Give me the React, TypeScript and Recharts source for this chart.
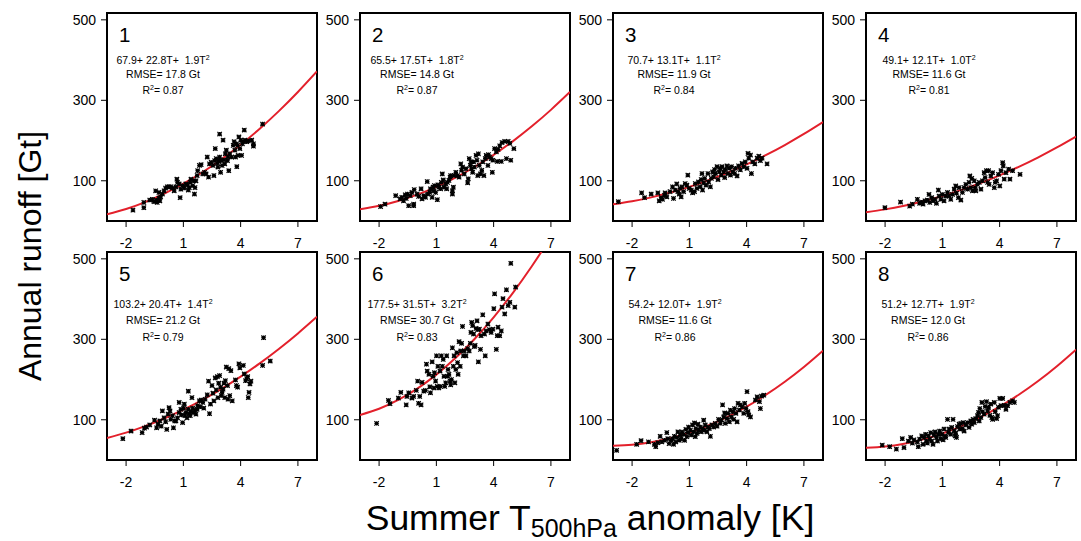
import { ComposedChart, Scatter, Line, XAxis, YAxis, ReferenceArea } from "recharts";

// fitted curves, read at whole degrees T = -3 .. 8
const curveT = [-3, -2, -1, 0, 1, 2, 3, 4, 5, 6, 7, 8];
const curve1 = [16.6, 29.9, 47.0, 67.9, 92.6, 121.1, 153.4, 189.5, 229.4, 273.1, 320.6, 371.9];
const curve2 = [29.2, 37.7, 49.8, 65.5, 84.8, 107.7, 134.2, 164.3, 198.0, 235.3, 276.2, 320.7];
const curve3 = [41.3, 48.9, 58.7, 70.7, 84.9, 101.3, 119.9, 140.7, 163.7, 188.9, 216.3, 245.9];
const curve4 = [21.8, 28.9, 38.0, 49.1, 62.2, 77.3, 94.4, 113.5, 134.6, 157.7, 182.8, 209.9];
const curve5 = [54.6, 68.0, 84.2, 103.2, 125.0, 149.6, 177.0, 207.2, 240.2, 276.0, 314.6, 356.0];
const curve6 = [111.8, 127.3, 149.2, 177.5, 212.2, 253.3, 300.8, 354.7, 415.0, 481.7, 554.8, 634.3];
const curve7 = [35.3, 37.8, 44.1, 54.2, 68.1, 85.8, 107.3, 132.6, 161.7, 194.6, 231.3, 271.8];
const curve8 = [30.2, 33.4, 40.4, 51.2, 65.8, 84.2, 106.4, 132.4, 162.2, 195.8, 233.2, 274.4];

// yearly points [T anomaly, runoff]
const scatter1 = [[-1.64,27],[-1.07,33],[-1.07,46],[-0.76,52],[-0.63,54],[-0.54,48],[-0.42,52],[-0.37,46],[-0.28,57],[-0.23,50],[-0.19,60],[-0.45,75],[-0.28,71],[-0.10,67],[-0.01,75],[0.07,82],[0.16,85],[0.25,85],[0.34,85],[0.43,82],[0.52,75],[0.61,85],[0.66,104],[0.69,96],[0.78,92],[0.83,58],[0.87,79],[0.96,88],[1.05,82],[1.13,92],[1.22,90],[1.26,77],[1.31,83],[1.36,96],[1.40,104],[1.49,88],[1.54,100],[1.58,67],[1.61,83],[1.66,100],[1.72,113],[1.75,125],[1.84,138],[1.93,140],[2.02,117],[2.11,121],[2.19,117],[2.25,159],[2.32,109],[2.37,142],[2.46,146],[2.55,138],[2.60,113],[2.64,150],[2.67,180],[2.72,155],[2.78,144],[2.81,134],[2.85,150],[2.90,216],[2.90,159],[2.95,121],[2.99,150],[3.03,138],[3.08,201],[3.13,152],[3.17,142],[3.20,167],[3.25,176],[3.31,150],[3.34,159],[3.38,125],[3.43,167],[3.52,159],[3.61,188],[3.66,197],[3.70,176],[3.73,159],[3.78,192],[3.80,135],[3.84,188],[3.87,163],[3.91,209],[3.96,180],[4.01,201],[4.05,163],[4.09,192],[4.14,197],[4.19,226],[4.23,201],[4.32,197],[4.40,199],[4.58,201],[4.67,192],[4.67,186],[5.15,241]];
const scatter2 = [[-1.92,36],[-1.69,42],[-1.13,63],[-0.90,55],[-0.81,59],[-0.72,50],[-0.63,65],[-0.58,56],[-0.51,67],[-0.45,38],[-0.37,63],[-0.28,71],[-0.19,42],[-0.19,38],[-0.16,78],[-0.01,67],[0.07,61],[0.20,80],[0.25,55],[0.34,63],[0.43,59],[0.52,98],[0.55,67],[0.66,71],[0.69,80],[0.78,59],[0.83,84],[0.87,75],[0.90,88],[0.96,71],[1.05,53],[1.08,90],[1.13,84],[1.22,80],[1.26,96],[1.31,117],[1.36,102],[1.40,84],[1.49,92],[1.54,80],[1.58,96],[1.66,101],[1.72,109],[1.75,113],[1.84,75],[1.84,67],[1.89,84],[1.93,113],[2.02,121],[2.11,113],[2.19,109],[2.28,142],[2.32,126],[2.37,134],[2.46,117],[2.55,130],[2.64,95],[2.67,105],[2.72,155],[2.78,138],[2.81,147],[2.85,130],[2.90,121],[2.95,147],[2.99,134],[3.08,163],[3.13,151],[3.17,113],[3.20,167],[3.25,138],[3.31,117],[3.38,126],[3.43,147],[3.49,113],[3.56,155],[3.61,163],[3.70,138],[3.73,165],[3.78,159],[3.87,155],[3.93,121],[3.96,151],[4.05,180],[4.14,172],[4.19,148],[4.23,178],[4.32,187],[4.40,148],[4.44,195],[4.58,198],[4.67,155],[4.76,198],[4.85,193],[4.90,151],[5.06,180]];
const scatter3 = [[-2.72,48],[-1.50,70],[-1.35,58],[-1.00,67],[-0.65,70],[-0.58,50],[-0.48,58],[-0.41,54],[-0.30,64],[-0.27,70],[-0.18,60],[-0.01,73],[0.12,85],[0.17,56],[0.26,77],[0.34,92],[0.40,73],[0.47,67],[0.52,81],[0.57,60],[0.61,85],[0.70,73],[0.78,93],[0.87,89],[0.92,114],[0.99,81],[1.10,77],[1.17,70],[1.27,73],[1.31,93],[1.40,81],[1.48,97],[1.57,85],[1.62,103],[1.66,118],[1.69,77],[1.75,95],[1.80,106],[1.87,89],[1.97,118],[2.01,97],[2.10,85],[2.15,106],[2.22,122],[2.27,110],[2.32,128],[2.36,118],[2.45,135],[2.50,103],[2.57,122],[2.62,131],[2.67,114],[2.71,135],[2.80,122],[2.85,108],[2.88,128],[2.97,137],[3.02,118],[3.09,131],[3.15,114],[3.20,135],[3.27,122],[3.37,118],[3.41,131],[3.50,112],[3.58,137],[3.67,127],[3.76,143],[3.85,135],[3.93,147],[4.02,131],[4.07,168],[4.11,156],[4.20,164],[4.25,118],[4.32,147],[4.43,142],[4.55,156],[4.64,161],[4.72,150],[4.81,156],[5.07,142]];
const scatter4 = [[-2.01,33],[-1.19,47],[-0.71,37],[-0.57,42],[-0.31,54],[-0.19,44],[-0.08,47],[-0.01,42],[0.09,50],[0.21,52],[0.30,66],[0.34,46],[0.44,58],[0.51,50],[0.62,54],[0.69,44],[0.79,77],[0.83,62],[0.92,54],[1.00,66],[1.09,50],[1.18,62],[1.27,71],[1.35,62],[1.44,54],[1.53,66],[1.62,79],[1.70,87],[1.74,69],[1.84,58],[1.88,83],[1.97,52],[2.05,71],[2.14,83],[2.23,91],[2.32,79],[2.40,96],[2.44,112],[2.49,83],[2.54,106],[2.58,75],[2.67,100],[2.72,83],[2.75,75],[2.84,91],[2.93,96],[3.02,79],[3.10,100],[3.19,120],[3.24,108],[3.31,125],[3.37,96],[3.42,125],[3.45,91],[3.54,112],[3.63,120],[3.72,83],[3.77,96],[3.84,100],[3.94,116],[4.01,87],[4.07,125],[4.16,145],[4.19,137],[4.24,104],[4.33,120],[4.47,129],[4.54,104],[4.68,125],[5.07,116]];
const scatter5 = [[-2.17,53],[-1.74,72],[-1.16,68],[-1.04,79],[-0.93,82],[-0.76,87],[-0.51,99],[-0.40,80],[-0.33,89],[-0.23,97],[-0.16,84],[-0.10,122],[-0.01,105],[0.07,95],[0.13,76],[0.20,114],[0.25,130],[0.30,122],[0.34,101],[0.43,110],[0.48,80],[0.55,97],[0.61,97],[0.69,105],[0.78,143],[0.78,118],[0.87,126],[0.90,112],[0.96,93],[1.01,129],[1.05,139],[1.08,110],[1.13,118],[1.19,105],[1.26,171],[1.26,126],[1.31,115],[1.36,110],[1.40,120],[1.45,155],[1.49,129],[1.54,118],[1.61,124],[1.66,114],[1.72,126],[1.75,135],[1.84,147],[1.89,132],[1.93,149],[2.02,143],[2.07,129],[2.14,151],[2.25,162],[2.32,196],[2.37,115],[2.42,139],[2.50,185],[2.55,166],[2.60,147],[2.67,204],[2.72,174],[2.78,207],[2.81,155],[2.85,191],[2.90,210],[2.95,181],[2.99,160],[3.03,168],[3.08,176],[3.13,191],[3.17,155],[3.20,197],[3.25,231],[3.31,185],[3.34,151],[3.38,227],[3.43,160],[3.49,222],[3.56,147],[3.73,199],[3.78,185],[3.84,181],[3.91,239],[3.96,229],[4.14,235],[4.19,214],[4.26,197],[4.32,202],[4.37,207],[4.40,155],[4.44,168],[4.49,189],[4.54,196],[5.15,235],[5.20,304],[5.55,246]];
const scatter6 = [[-2.13,91],[-1.51,148],[-1.43,140],[-0.99,154],[-0.86,168],[-0.58,137],[-0.54,158],[-0.45,167],[-0.28,154],[-0.19,158],[-0.05,173],[0.02,196],[0.07,141],[0.13,158],[0.20,137],[0.25,193],[0.34,171],[0.43,173],[0.48,238],[0.52,221],[0.61,213],[0.66,182],[0.69,167],[0.78,244],[0.83,208],[0.87,179],[0.90,217],[0.96,196],[1.01,259],[1.05,183],[1.08,233],[1.13,179],[1.19,221],[1.22,183],[1.26,259],[1.31,233],[1.36,250],[1.40,208],[1.44,183],[1.49,192],[1.54,259],[1.58,208],[1.61,225],[1.66,213],[1.72,196],[1.75,187],[1.79,200],[1.84,279],[1.89,233],[1.93,259],[1.97,192],[2.02,225],[2.07,267],[2.11,242],[2.14,213],[2.19,294],[2.25,233],[2.28,271],[2.32,290],[2.37,332],[2.42,259],[2.46,271],[2.55,259],[2.64,277],[2.72,271],[2.78,290],[2.81,317],[2.85,342],[2.90,334],[2.95,313],[2.99,282],[3.03,285],[3.08,327],[3.13,346],[3.17,324],[3.20,244],[3.25,325],[3.31,275],[3.34,309],[3.43,361],[3.52,313],[3.56,259],[3.61,321],[3.70,338],[3.78,324],[3.87,317],[3.96,325],[4.01,376],[4.05,413],[4.14,275],[4.19,309],[4.23,330],[4.32,309],[4.40,321],[4.44,380],[4.49,401],[4.58,363],[4.67,423],[4.76,384],[4.85,392],[4.90,489],[5.11,380],[5.15,430]];
const scatter7 = [[-2.81,24],[-1.76,39],[-1.53,48],[-1.14,45],[-0.83,39],[-0.76,33],[-0.65,43],[-0.53,59],[-0.44,45],[-0.30,49],[-0.18,68],[-0.13,53],[-0.06,41],[0.05,49],[0.12,53],[0.17,39],[0.22,59],[0.29,45],[0.34,56],[0.40,70],[0.47,49],[0.52,62],[0.57,53],[0.61,70],[0.70,64],[0.75,49],[0.82,76],[0.87,58],[0.92,68],[0.96,82],[1.05,74],[1.10,62],[1.17,87],[1.22,70],[1.27,92],[1.31,58],[1.34,78],[1.40,66],[1.45,89],[1.48,74],[1.57,82],[1.62,70],[1.69,78],[1.75,99],[1.80,74],[1.83,87],[1.92,70],[1.97,82],[2.04,78],[2.10,59],[2.18,87],[2.27,82],[2.36,91],[2.45,84],[2.53,101],[2.62,91],[2.67,99],[2.74,137],[2.80,107],[2.85,117],[2.88,91],[2.97,103],[3.02,116],[3.09,95],[3.15,124],[3.20,107],[3.27,120],[3.32,101],[3.37,128],[3.44,116],[3.50,95],[3.55,141],[3.62,124],[3.67,137],[3.76,132],[3.85,116],[3.90,141],[3.97,128],[4.02,170],[4.07,120],[4.11,112],[4.20,107],[4.46,149],[4.55,157],[4.67,145],[4.72,128],[4.78,159],[4.90,161]];
const scatter8 = [[-2.15,37],[-1.76,33],[-1.41,27],[-1.10,53],[-1.01,31],[-0.78,47],[-0.66,56],[-0.57,42],[-0.49,50],[-0.31,45],[-0.26,33],[-0.19,52],[-0.08,60],[-0.01,39],[0.04,56],[0.13,64],[0.16,47],[0.21,42],[0.27,60],[0.34,52],[0.39,68],[0.44,47],[0.51,39],[0.57,62],[0.62,70],[0.69,56],[0.74,47],[0.79,64],[0.86,72],[0.92,53],[0.97,64],[1.04,50],[1.09,77],[1.14,60],[1.18,56],[1.27,101],[1.32,68],[1.35,77],[1.44,64],[1.49,81],[1.56,101],[1.62,72],[1.67,60],[1.70,67],[1.74,56],[1.79,83],[1.88,89],[1.91,77],[1.97,91],[2.05,78],[2.09,93],[2.14,72],[2.23,87],[2.32,93],[2.40,81],[2.49,97],[2.54,89],[2.61,101],[2.67,93],[2.75,103],[2.84,110],[2.89,118],[2.93,97],[2.96,128],[3.02,106],[3.07,143],[3.10,120],[3.19,114],[3.24,133],[3.31,145],[3.37,122],[3.42,131],[3.49,111],[3.54,139],[3.59,106],[3.63,101],[3.72,143],[3.77,120],[3.84,103],[3.89,110],[3.94,131],[4.01,153],[4.07,135],[4.16,153],[4.24,136],[4.33,126],[4.42,135],[4.54,143],[4.68,147],[4.77,143]];

const panelNames = ["1", "2", "3", "4", "5", "6", "7", "8"];
const intercepts = [67.9, 65.5, 70.7, 49.1, 103.2, 177.5, 54.2, 51.2];
const linearTerms = [22.8, 17.5, 13.1, 12.1, 20.4, 31.5, 12.0, 12.7];
const quadTerms = [1.9, 1.8, 1.1, 1.0, 1.4, 3.2, 1.9, 1.9];
const rmses = [17.8, 14.8, 11.9, 11.6, 21.2, 30.7, 11.6, 12.0];
const r2s = [0.87, 0.87, 0.84, 0.81, 0.79, 0.83, 0.86, 0.86];

const xTicks = [-2, 1, 4, 7];
const yTicks = [100, 300, 500];

const curves = [curve1, curve2, curve3, curve4, curve5, curve6, curve7, curve8];
const scatters = [scatter1, scatter2, scatter3, scatter4, scatter5, scatter6, scatter7, scatter8];

const colLefts = [107, 360, 613, 866];
const rowTops = [13, 252];
const textCenters = [56, 57, 61, 63, 56, 57, 62, 62];
const textBase = [
  [50.5, 65, 81],
  [56, 71.5, 88.5],
];
const FONT = "'Liberation Sans', Arial, Helvetica, sans-serif";

function Star(props: any) {
  const { cx, cy } = props;
  if (cx == null || cy == null) return <g />;
  const r = 2.2;
  const d = `M${cx - r},${cy - r}L${cx + r},${cy + r}M${cx - r},${cy + r}L${cx + r},${cy - r}M${cx},${cy - r}L${cx},${cy + r}M${cx - r},${cy}L${cx + r},${cy}`;
  return <path d={d} stroke="#000" strokeWidth={1.2} fill="none" />;
}

function Panel({ i }: { i: number }) {
  const col = i % 4;
  const row = Math.floor(i / 4);
  const pts = scatters[i].map(([t, v]) => ({ t, v }));
  const fit = curveT.map((t, k) => ({ t, v: curves[i][k] }));
  return (
    <div style={{ position: "absolute", left: colLefts[col] - 60, top: rowTops[row] - 10 }}>
      <ComposedChart width={280} height={260} margin={{ top: 10, right: 10, bottom: 0, left: 0 }}>
        <XAxis
          type="number"
          dataKey="t"
          domain={[-3, 8]}
          ticks={xTicks}
          allowDataOverflow
          height={42}
          axisLine={false}
          tickLine={{ stroke: "#000" }}
          tickSize={6}
          tickMargin={11}
          tick={{ fill: "#000", fontSize: 14 }}
        />
        <YAxis
          type="number"
          dataKey="v"
          domain={[0, 517]}
          ticks={yTicks}
          allowDataOverflow
          width={60}
          axisLine={false}
          tickLine={{ stroke: "#000" }}
          tickSize={6}
          tickMargin={5}
          tick={{ fill: "#000", fontSize: 14 }}
        />
        <Scatter data={pts} dataKey="v" shape={<Star />} isAnimationActive={false} />
        <Line
          data={fit}
          dataKey="v"
          type="natural"
          stroke="#e3202b"
          strokeWidth={2}
          dot={false}
          activeDot={false}
          isAnimationActive={false}
        />
        <ReferenceArea x1={-3} x2={8} y1={0} y2={517} fill="none" stroke="#000" strokeWidth={2} />
      </ComposedChart>
    </div>
  );
}

export default function App() {
  return (
    <div style={{ position: "absolute", left: 0, top: 0, width: 1081, height: 541, background: "#fff", fontFamily: FONT }}>
      {panelNames.map((_, i) => (
        <Panel key={i} i={i} />
      ))}
      <svg width={1081} height={541} style={{ position: "absolute", left: 0, top: 0, pointerEvents: "none" }} fontFamily={FONT}>
        {panelNames.map((name, i) => {
          const col = i % 4;
          const row = Math.floor(i / 4);
          const x0 = colLefts[col];
          const y0 = rowTops[row];
          const cx = x0 + textCenters[i];
          const b = textBase[row];
          return (
            <g key={name} fill="#000">
              <text x={x0 + 12} y={y0 + 28.5} fontSize={20.5}>{name}</text>
              <text x={cx} y={y0 + b[0]} fontSize={10.5} textAnchor="middle" style={{ whiteSpace: "pre" }}>
                {`${intercepts[i].toFixed(1)}+ ${linearTerms[i].toFixed(1)}T+  ${quadTerms[i].toFixed(1)}T`}
                <tspan fontSize={7} dy={-4}>2</tspan>
              </text>
              <text x={cx} y={y0 + b[1]} fontSize={10.5} textAnchor="middle" style={{ whiteSpace: "pre" }}>
                {`RMSE= ${rmses[i].toFixed(1)} Gt`}
              </text>
              <text x={cx} y={y0 + b[2]} fontSize={10.5} textAnchor="middle" style={{ whiteSpace: "pre" }}>
                R<tspan fontSize={7} dy={-4}>2</tspan>
                <tspan dy={4}>{`= ${r2s[i].toFixed(2)}`}</tspan>
              </text>
            </g>
          );
        })}
        <text transform="translate(41,256) rotate(-90)" textAnchor="middle" fontSize={32} fill="#000">
          Annual runoff [Gt]
        </text>
        <text x={590} y={530} textAnchor="middle" fontSize={35.5} fill="#000" style={{ whiteSpace: "pre" }}>
          Summer T<tspan fontSize={25} dy={7}>500hPa</tspan>
          <tspan dy={-7}>{" anomaly [K]"}</tspan>
        </text>
      </svg>
    </div>
  );
}
